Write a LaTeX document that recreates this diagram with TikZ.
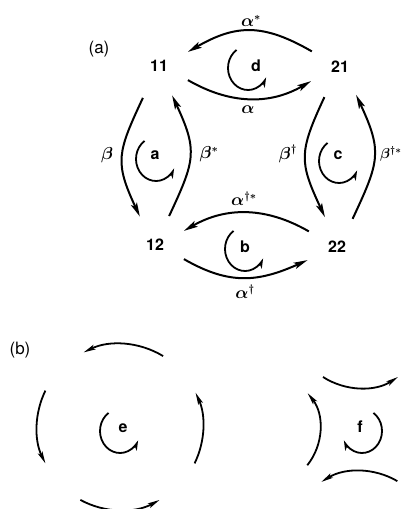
\documentclass[tikz,border=0pt]{standalone}
\usepackage{fontspec}
\setsansfont{TeX Gyre Heros}
\usetikzlibrary{arrows.meta}
\begin{document}
\begin{tikzpicture}[x=1pt,y=1pt,
  vert/.style={circle,minimum size=64pt,inner sep=0pt,font=\fontsize{16}{18}\sffamily\bfseries},
  lbl/.style={inner sep=0pt,font=\fontsize{16}{18}\selectfont\boldmath},
  lett/.style={inner sep=0pt,font=\fontsize{16}{18}\sffamily\bfseries},
  head/.style={inner sep=0pt,font=\fontsize{17}{19}\sffamily},
  bigarc/.style={line width=2pt,-{Stealth[length=14pt,width=6.5pt,inset=3pt]}},
  curl/.style={line width=1.8pt,-{Stealth[length=10pt,width=5.5pt,inset=2.5pt]}},
  sarc/.style={line width=1.8pt,-{Stealth[length=12pt,width=5pt,inset=2.5pt]}}
]
\useasboundingbox (0,0) rectangle (400,509);

% part (a)
\node[head] (pa) at (99,460) {(a)};
\node[vert] (n11) at (159,443) {11};
\node[vert] (n21) at (340,442) {21};
\node[vert] (n12) at (155,264) {12};
\node[vert] (n22) at (337,262) {22};

\draw[bigarc] (n21.151) to[out=150,in=30,looseness=1.15] (n11.26);
\draw[bigarc] (n11.334) to[out=-30,in=210] (n21.206);
\draw[bigarc] ([yshift=-4pt]n11.240) to[out=245,in=115,looseness=1.3] (n12.118);
\draw[bigarc] (n12.64) to[out=65,in=295,looseness=1.3] (n11.294);
\draw[bigarc] ([yshift=-2pt]n21.241) to[out=245,in=115,looseness=1.3] (n22.112);
\draw[bigarc] (n22.61) to[out=65,in=295,looseness=1.3] (n21.300);
\draw[bigarc] (n22.151) to[out=150,in=30] (n12.26);
\draw[bigarc] (n12.334) to[out=-30,in=204,looseness=1.1] (n22.204);

\node[lbl] (lastar) at (251,488) {$\alpha^{*}$};
\node[lbl] (lal) at (248,399) {$\alpha$};
\node[lbl] (lbe) at (107,354) {$\beta$};
\node[lbl] (lbestar) at (209,355) {$\beta^{*}$};
\node[lbl] (lbed) at (288,355) {$\beta^{\dagger}$};
\node[lbl,anchor=west,font=\fontsize{14}{16}\selectfont\boldmath] (lbeds) at (380,355) {$\beta^{\dagger *}$};
\node[lbl] (lads) at (244,310) {$\alpha^{\dagger *}$};
\node[lbl] (lad) at (245,217) {$\alpha^{\dagger}$};

% loops a-d
\node[lett] (ld) at (256,443) {d};
\node[lett] (la) at (155,354) {a};
\node[lett] (lb) at (245,262) {b};
\node[lett] (lc) at (338,354) {c};
\coordinate (cd) at (248,441);
\coordinate (ca) at (156,350);
\coordinate (cb) at (245,260);
\coordinate (cc) at (339,348);
\foreach \c in {cd,ca,cb,cc}{
  \draw[curl] ([shift={(125:20 and 22)}]\c) arc[start angle=125,end angle=335,x radius=20,y radius=22];
}

% part (b)
\node[head] (pb) at (20,159) {(b)};
\node[lett] (le) at (123,81) {e};
\node[lett] (lf) at (360,82) {f};
\coordinate (ce) at (120,82);
\coordinate (cf) at (362,78);
\coordinate (ce2) at (120,78);
\draw[curl] ([shift={(125:20 and 22)}]ce2) arc[start angle=125,end angle=335,x radius=20,y radius=22];
\draw[curl] ([shift={(55:20 and 22)}]cf) arc[start angle=55,end angle=-155,x radius=20,y radius=22];

\draw[sarc] ([shift={(58.7:83)}]ce) arc[start angle=58.7,end angle=116,radius=83];
\draw[sarc] ([shift={(154:83)}]ce) arc[start angle=154,end angle=206,radius=83];
\draw[sarc] ([shift={(-26:83)}]ce) arc[start angle=-26,end angle=24.4,radius=83];
\draw[sarc] ([shift={(241.5:83)}]ce) arc[start angle=241.5,end angle=298.5,radius=83];

\coordinate (ft) at (360.5,190.4);
\coordinate (fl) at (261.9,80);
\coordinate (fb) at (360,-36);
\draw[sarc] ([shift={(237.3:69.4)}]ft) arc[start angle=237.3,end angle=302.7,radius=69.4];
\draw[sarc] ([shift={(-38.6:58.1)}]fl) arc[start angle=-38.6,end angle=38,radius=58.1];
\draw[sarc] ([shift={(59.7:74)}]fb) arc[start angle=59.7,end angle=121.5,radius=74];
\end{tikzpicture}
\end{document}
